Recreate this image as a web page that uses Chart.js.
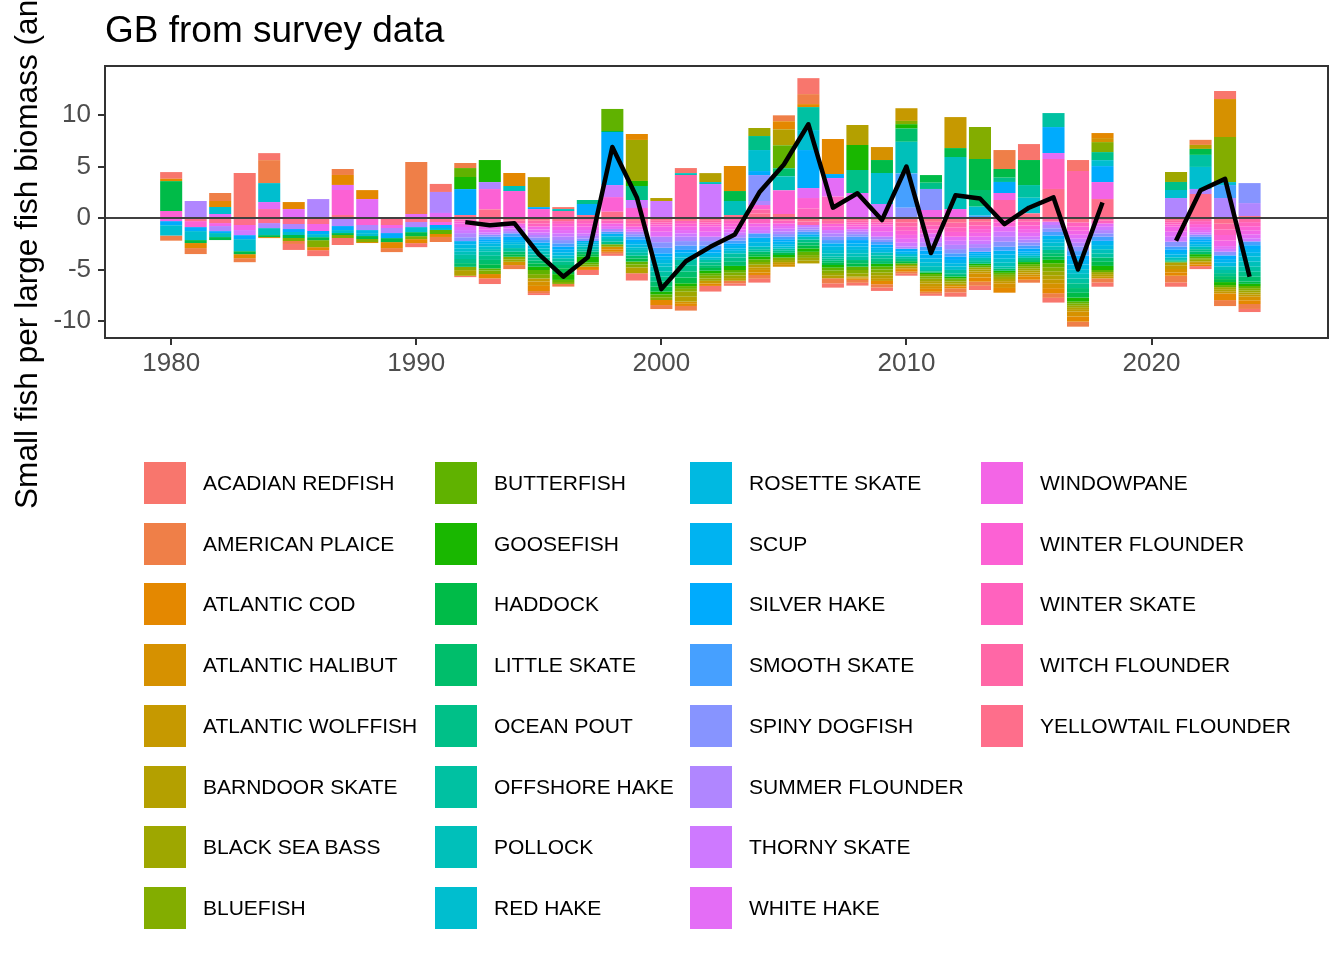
<!DOCTYPE html>
<html>
<head>
<meta charset="utf-8">
<script src="https://cdn.jsdelivr.net/npm/chart.js@4.4.1/dist/chart.umd.min.js"></script>
<style>
  body { margin: 0; background: #fff; }
  #wrap { position: relative; width: 1344px; height: 960px; font-family: "Liberation Sans", Arial, sans-serif; }
  #c { position: absolute; left: 0; top: 0; }
  .key { position: absolute; width: 42px; height: 42px; }
  .lab { position: absolute; height: 42px; line-height: 42px; font-size: 21px; color: #000; white-space: nowrap; }
</style>
</head>
<body>
<div id="wrap">
  <canvas id="c" width="1344" height="960"></canvas>
</div>
<script>
var years = [1980,1981,1982,1983,1984,1985,1986,1987,1988,1989,
  1990,1991,1992,1993,1994,1995,1996,1997,1998,1999,
  2000,2001,2002,2003,2004,2005,2006,2007,2008,2009,
  2010,2011,2012,2013,2014,2015,2016,2017,2018,2019,2020,
  2021,2022,2023,2024];

var xTicks = [1980, 1990, 2000, 2010, 2020];
var yTicks = [-10, -5, 0, 5, 10];

var species = ['ACADIAN REDFISH','AMERICAN PLAICE','ATLANTIC COD','ATLANTIC HALIBUT','ATLANTIC WOLFFISH',
  'BARNDOOR SKATE','BLACK SEA BASS','BLUEFISH','BUTTERFISH','GOOSEFISH','HADDOCK','LITTLE SKATE',
  'OCEAN POUT','OFFSHORE HAKE','POLLOCK','RED HAKE','ROSETTE SKATE','SCUP','SILVER HAKE',
  'SMOOTH SKATE','SPINY DOGFISH','SUMMER FLOUNDER','THORNY SKATE','WHITE HAKE','WINDOWPANE',
  'WINTER FLOUNDER','WINTER SKATE','WITCH FLOUNDER','YELLOWTAIL FLOUNDER'];

var acadianRedfish = [0.65,0,0,4.37,0.68,-0.58,-0.58,-0.68,0,0, -0.39,0.78,-0.13,-0.55,0,-0.19,0.19,-0.49,-0.19,-0.71, 0,0.49,-0.55,-0.24,-0.37,0,1.55,-0.42,-0.27,-0.33, -0.19,-0.19,-0.41,-0.41,0,1.55,-0.46,1.07,-0.41,null,null, -0.42,-0.29,0.78,-0.3];
var americanPlaice = [-0.5,-0.58,0.78,-0.39,2.23,-0.29,0,0.58,0,-0.39, 5.05,-0.49,0.49,0,-0.39,-0.2,-0.26,0,-0.2,0, -0.39,-0.45,0,-0.25,-0.37,0.58,0.97,-0.49,-0.28,-0.32, -0.2,-0.2,-0.4,-0.4,1.84,-0.29,-0.45,-0.49,-0.4,null,null, -0.65,0.49,-0.58,-0.48];
var atlanticCod = [0.23,-0.49,0.58,-0.39,-0.1,0.68,-0.29,0.97,0.87,-0.58, -0.39,-0.29,0,-0.42,1.26,-0.5,0,-0.32,-0.24,0.58, -0.49,-0.21,-0.24,2.43,-0.24,0.78,0.29,3.4,-0.12,-0.32, -0.17,-0.28,-0.17,-0.41,-0.46,-0.29,-0.49,-0.49,0.49,null,null, -0.32,-0.16,-0.65,-0.36];
var atlanticHalibut = [0,0,0,0,0,0,0,0,-0.1,0, 0,0,0,0,-0.32,-0.43,0,0,-0.25,0, 0,-0.21,0,0,-0.25,-0.25,0,0,-0.1,1.26, -0.16,-0.27,-0.16,-0.4,-0.45,-0.21,-0.48,-0.48,0.39,null,null, -0.33,-0.15,3.69,-0.35];
var atlanticWolffish = [0,0,0,0,0,0,0,0,0,0, 0,0,0,0,0,-0.3,0,0,0,0, 0,0,-0.25,0,-0.25,-0.2,0,0,-0.1,-0.27, 1.23,-0.24,3.01,-0.19,-0.21,-0.21,-0.38,-0.17,-0.21,null,null, -0.32,-0.15,-0.21,-0.2];
var barndoorSkate = [0,0,0,0,0,0,0,0,0,0, 0,0,-0.55,0,0,2.91,0,0,0,-0.57, 0.29,-0.48,0.87,-0.26,-0.26,1.55,-0.27,-0.25,1.94,-0.28, -0.16,-0.24,-0.16,-0.19,-0.21,-0.2,-0.39,-0.2,-0.2,null,null, -0.33,0.39,-0.2,-0.21];
var blackSeaBass = [0,0,0,0,0,0,0,0,0,0, 0,0,0,0,-0.24,0,0,0,0,3.98, 0,-0.49,-0.24,-0.26,0.78,-0.2,-0.27,-0.26,-0.32,-0.28, -0.16,-0.23,-0.17,-0.19,-0.2,-0.2,-0.39,-0.2,-0.2,null,null, 0.97,-0.15,-0.2,-0.21];
var bluefish = [0,0,0,0,0,-0.29,-0.68,-0.29,-0.29,0, -0.29,0,-0.32,-0.35,-0.25,-0.41,-0.19,-0.19,-0.24,-0.28, -0.27,-0.27,-0.25,-0.26,-0.26,-0.24,-0.27,-0.26,-0.32,-0.28, 0.32,-0.23,-0.16,3.11,-0.2,-0.2,-0.39,-0.2,0.97,null,null, 0,-0.15,4.37,-0.21];
var butterfish = [0,0,0,0,0,0,0,0,0,0, 0,-0.39,0.87,-0.2,0,-0.4,-0.2,-0.2,2.14,-0.28, -0.27,-0.27,-0.25,-0.26,-0.26,2.23,-0.32,-0.26,-0.33,-0.28, -0.16,-0.23,-0.16,-0.18,-0.2,-0.2,-0.39,-0.2,-0.2,null,null, 0,-0.15,-0.2,-0.21];
var goosefish = [0,0,0,0,0,0,0,0,0,0, 0,0,1.17,2.14,0,-0.32,-0.56,-0.58,0,0.49, -0.27,-0.27,-0.25,-0.4,-0.26,-0.25,-0.33,-0.26,2.43,-0.27, 0.42,-0.13,-0.16,-0.18,-0.2,-0.2,-0.33,-0.39,-0.4,null,null, 0,-0.25,-0.29,-0.21];
var haddock = [2.9,-0.29,-0.29,-0.29,-0.19,-0.29,-0.29,-0.19,-0.29,-0.39, -0.39,0,0,-0.4,-0.24,-0.33,-0.57,-0.24,0.1,-0.29, -0.48,-0.56,-0.26,0.97,-0.24,-0.21,-0.29,-0.21,-0.32,1.26, -0.21,0.74,0.87,3.01,0.84,2.43,-0.32,-0.47,-0.4,null,null, -0.07,0.58,-0.29,-0.21];
var littleSkate = [0,0,0,0,0,0,0,0,0,0, 0,0,-0.36,-0.42,-0.25,-0.29,-0.32,-0.24,0,-0.28, -0.48,-0.57,-0.26,-0.4,-0.24,0.78,-0.28,-0.2,-0.32,-0.27, 1.29,-0.13,-0.16,1.62,-0.2,-0.2,-0.32,-0.46,-0.41,null,null, -0.08,-0.24,-0.29,-0.48];
var oceanPout = [0,0,0,0,0,0,0,0,0,0, 0,0,-0.4,-0.4,0,-0.28,-0.32,0.39,-0.25,1.36, -0.49,-0.57,-0.26,-0.41,1.36,-0.2,-0.28,-0.2,2.23,-0.27, -0.22,0.61,-0.16,-0.18,0.42,-0.21,-0.32,-0.46,0.78,null,null, 0.78,-0.24,-0.29,-0.48];
var offshoreHake = [0,0,0,0,0,0,0,0,0,0, 0,0,-0.4,-0.4,-0.35,-0.28,-0.33,-0.24,0,-0.28, -0.49,-0.57,-0.26,-0.41,-0.24,-0.2,2.23,-0.2,-0.32,-0.27, -0.22,-0.13,-0.33,-0.18,-0.2,1.23,1.36,-0.46,-0.41,null,null, -0.08,1.17,-0.3,-0.49];
var pollock = [0,0,-0.39,0,-0.68,0,0,0,0,0, 0,0,-0.3,-0.25,0.49,-0.28,0.19,-0.25,-0.26,-0.28, -0.49,0.19,0.19,1.36,-0.25,1.36,-0.28,-0.32,-0.33,-0.27, 3.07,-0.37,5.05,-0.21,-0.38,-0.2,-0.35,-0.46,-0.4,null,null, -0.25,-0.24,-0.36,-0.49];
var redHake = [-1.0,-0.87,0.68,-1.17,1.84,-0.29,-0.3,-0.29,-0.28,0, -0.49,-0.19,-0.34,-0.27,-0.38,-0.3,-0.27,-0.19,-0.26,-0.25, -0.33,-0.24,-0.24,-0.24,2.04,-0.2,1.94,-0.32,-0.33,3.01, -0.26,-0.38,-0.33,0.87,-0.39,1.52,-0.35,-0.45,0.58,null,null, 0.78,2.14,0.29,-0.49];
var rosetteSkate = [0,0,0,0,0,0,0,0,-0.3,0, 0,0,-0.35,-0.25,-0.2,-0.28,-0.28,-0.18,0,-0.26, -0.32,-0.24,-0.24,-0.24,-0.43,-0.24,0,-0.32,-0.32,-0.27, 0,-0.38,-0.32,-0.2,-0.39,-0.2,-0.35,-0.45,-0.4,null,null, -0.26,-0.25,-0.35,-0.37];
var scup = [0,0,0,0,0,0,0,0,0,0, 0,0,-0.35,-0.2,-0.2,-0.3,-0.28,-0.18,-0.25,-0.26, -0.32,-0.24,-0.24,-0.24,-0.43,-0.24,-0.24,-0.33,-0.32,-0.25, -0.26,-0.38,-0.32,-0.2,-0.39,-0.2,-0.35,-0.45,-0.41,null,null, -0.26,-0.24,-0.35,-0.37];
var silverHake = [-0.4,-0.39,-0.19,-0.39,0,-0.29,-0.3,-0.39,0,-0.49, 0,-0.29,2.52,-0.24,-0.32,0.19,-0.3,1.07,5.15,-0.26, -0.32,-0.25,-0.25,-0.25,0.39,-0.24,3.69,0.39,-0.32,-0.26, -0.25,-0.38,-0.32,-0.2,1.07,-0.3,2.52,-0.43,1.55,null,null, -0.26,-0.24,-0.36,-0.37];
var smoothSkate = [0,0,0,0,0,0,0,0,0,0, 0,0,0,-0.25,-0.33,-0.25,-0.32,0,-0.2,-0.26, -0.54,-0.43,-0.43,-0.27,-0.43,-0.25,-0.25,-0.32,-0.33,-0.26, 3.33,-0.38,-0.32,0.23,-0.39,-0.29,-0.35,-0.43,-0.41,null,null, -0.26,-0.24,1.26,-0.37];
var spinyDogfish = [0,0,0,0,0,0,0,0,0,0, 0,0,-0.37,-0.2,0,-0.24,-0.32,-0.24,0,-0.24, -0.54,-0.43,-0.43,-0.27,2.52,-0.25,-0.21,-0.33,-0.24,-0.26, 1.0,2.04,-0.41,-0.37,-0.48,-0.29,-0.35,-0.43,-0.32,null,null, -0.48,-0.21,-0.36,1.94];
var summerFlounder = [0,1.65,-0.49,0,-0.49,-0.49,1.84,-0.78,-0.49,-0.49, -0.49,2.04,-0.4,0.68,-0.22,-0.25,-0.33,-0.25,-0.27,-0.24, -0.54,-0.43,-0.43,-0.27,0.39,-0.26,-0.22,-0.32,-0.24,-0.26, -0.2,-0.43,-0.41,-0.37,-0.48,-0.29,-0.32,-0.38,-0.32,null,null, 1.94,0.49,1.94,1.26];
var thornySkate = [0,0,0,-0.49,0,0,0,0,0,0, 0,0,-0.3,-0.22,-0.25,-0.25,-0.32,-0.25,1.17,0.78, 1.65,-0.32,3.3,-0.27,-0.32,-0.26,-0.22,-0.32,-0.24,1.36, -0.38,-0.43,-0.4,-0.36,-0.49,-0.29,-0.33,-0.39,-0.32,null,null, -0.48,-0.22,-0.27,-0.3];
var whiteHake = [0,0,0.39,0,0.68,0.87,0,0.49,1.84,0, 0.39,0.49,-0.3,-0.25,-0.25,-0.28,-0.32,-0.32,-0.27,-0.24, -0.48,-0.32,-0.48,-0.27,-0.32,-0.26,0.97,1.8,2.43,-0.48, -0.38,-0.43,-0.4,-0.36,-0.49,-0.37,0.58,-0.39,-0.33,null,null, -0.49,-0.22,-0.27,-0.39];
var windowpane = [-0.3,0,-0.29,-0.49,0,0,-0.68,0,0,-0.29, 0,-0.29,-0.35,-0.3,-0.25,-0.3,-0.33,-0.33,-0.27,-0.25, -0.49,-0.33,-0.49,-0.27,-0.33,-0.26,0,-0.33,-0.25,-0.49, -0.38,0.78,0.87,-0.37,0.68,-0.36,0,-0.39,1.65,null,null, -0.49,-0.29,-0.54,-0.39];
var winterFlounder = [0.68,-0.58,0,0,0,0,0,2.43,-0.68,0, 0,0,-0.18,1.97,2.62,0.87,-0.27,-0.28,1.42,0.97, -0.21,-0.28,-0.21,-0.28,0.42,2.3,1.0,-0.28,-0.21,-0.21, -0.4,-0.38,-0.46,-0.36,-0.42,-0.36,0,-0.39,0,null,null, -0.21,-0.29,-0.54,-0.39];
var winterSkate = [0,0,0,0,0,0,0,0,0,0, 0,0,-0.17,-0.42,0,-0.3,-0.27,-0.28,-0.26,-0.28, -0.21,-0.28,-0.21,-0.28,-0.52,-0.26,0.94,2.08,-0.21,-0.21, -0.4,-0.37,-0.45,-0.36,-0.42,-0.36,2.91,-0.42,-0.26,null,null, -0.21,-0.29,-0.55,-0.4];
var witchFlounder = [0,0,0,0,0.87,0,0,0,0,0, 0,0,-0.17,-0.42,-0.26,-0.26,0.68,-0.28,-0.26,-0.28, -0.21,4.17,-0.21,-0.28,0.42,-0.26,-0.34,-0.28,-0.21,-0.21, -0.42,-0.37,-0.45,-0.36,1.75,-0.36,-0.35,4.56,-0.26,null,null, -0.21,-0.3,-0.55,-0.4];
var yellowtailFlounder = [0,-0.3,-0.49,-0.68,-0.49,-0.58,-0.58,0.29,0,-0.68, -0.39,-0.39,0.29,0.84,-0.26,-0.26,-0.3,0.29,0.61,-0.28, -0.21,-0.28,-0.21,0.29,0.42,0.39,-0.34,-0.28,-0.21,-0.21, -0.42,-0.37,-0.45,-0.36,0,0.45,2.82,-0.42,1.84,null,null, -0.21,2.33,-0.55,0.19];

// black line: total over species, only shown from 1992
var netValues = [null,null,null,null,null,null,null,null,null,null, null,null,-0.4,-0.7,-0.5,-3.5,-5.7,-3.8,6.9,2.0, -6.9,-4.2,-2.8,-1.6,2.5,5.2,9.1,1.0,2.4,-0.2, 5.0,-3.4,2.2,1.9,-0.6,1.0,2.0,-5.0,1.5,null,null, -2.2,2.7,3.8,-5.7];

var seriesValues = [acadianRedfish, americanPlaice, atlanticCod, atlanticHalibut, atlanticWolffish,
  barndoorSkate, blackSeaBass, bluefish, butterfish, goosefish, haddock, littleSkate,
  oceanPout, offshoreHake, pollock, redHake, rosetteSkate, scup, silverHake,
  smoothSkate, spinyDogfish, summerFlounder, thornySkate, whiteHake, windowpane,
  winterFlounder, winterSkate, witchFlounder, yellowtailFlounder];

// ggplot hue palette (hcl, c = 100, l = 65)
function hueColor(h) {
  var L = 65, C = 100, rad = h * Math.PI / 180;
  var U = C * Math.cos(rad), V = C * Math.sin(rad);
  var Xn = 95.047, Yn = 100, Zn = 108.883;
  var den = Xn + 15 * Yn + 3 * Zn;
  var un = 4 * Xn / den, vn = 9 * Yn / den;
  var Y = Yn * Math.pow((L + 16) / 116, 3);
  var u = U / (13 * L) + un, v = V / (13 * L) + vn;
  var X = 9 * Y * u / (4 * v), Z = -X / 3 - 5 * Y + 3 * Y / v;
  var lin = [3.240479 * X - 1.537150 * Y - 0.498535 * Z,
    -0.969256 * X + 1.875992 * Y + 0.041556 * Z,
    0.055648 * X - 0.204043 * Y + 1.057311 * Z];
  var rgb = lin.map(function (c) {
    c = c / 100;
    var g = c <= 0.0031308 ? 12.92 * c : 1.055 * Math.pow(c, 1 / 2.4) - 0.055;
    return Math.round(255 * Math.min(1, Math.max(0, g)));
  });
  return 'rgb(' + rgb.join(',') + ')';
}
var colors = species.map(function (s, i) { return hueColor(15 + i * 360 / species.length); });

// legend, 8 rows per column
var colKeyX = [144, 435, 690, 981];
var wrap = document.getElementById('wrap');
species.forEach(function (name, i) {
  var col = Math.floor(i / 8), row = i % 8;
  var top = 462 + row * 60.7;
  var k = document.createElement('div');
  k.className = 'key';
  k.style.left = colKeyX[col] + 'px';
  k.style.top = top + 'px';
  k.style.background = colors[i];
  wrap.appendChild(k);
  var t = document.createElement('div');
  t.className = 'lab';
  t.style.left = (colKeyX[col] + 59) + 'px';
  t.style.top = top + 'px';
  t.textContent = name;
  wrap.appendChild(t);
});

Chart.defaults.font.family = '"Liberation Sans", Arial, sans-serif';

// first species ends up furthest from zero, as in ggplot
var datasets = [];
for (var i = species.length - 1; i >= 0; i--) {
  datasets.push({
    type: 'bar',
    label: species[i],
    data: years.map(function (yr, j) { return { x: yr, y: seriesValues[i][j] }; }),
    backgroundColor: colors[i],
    borderWidth: 0,
    categoryPercentage: 1,
    barPercentage: 0.9,
    stack: 'species'
  });
}
datasets.push({
  type: 'line',
  label: 'net',
  data: years.map(function (yr, j) { return { x: yr, y: netValues[j] }; }),
  borderColor: '#000',
  borderWidth: 4.5,
  borderJoinStyle: 'round',
  pointRadius: 0,
  tension: 0,
  spanGaps: false,
  stack: 'net',
  order: -1
});

var decor = {
  id: 'decor',
  afterDatasetsDraw: function (chart) {
    var ctx = chart.ctx, a = chart.chartArea;
    var y0 = chart.scales.y.getPixelForValue(0);
    ctx.save();
    ctx.strokeStyle = '#000';
    ctx.lineWidth = 1.5;
    ctx.beginPath();
    ctx.moveTo(a.left, y0);
    ctx.lineTo(a.right, y0);
    ctx.stroke();
    ctx.restore();
  },
  afterDraw: function (chart) {
    var ctx = chart.ctx, a = chart.chartArea;
    ctx.save();
    ctx.strokeStyle = '#333333';
    ctx.lineWidth = 2;
    ctx.strokeRect(a.left, a.top, a.right - a.left, a.bottom - a.top);
    ctx.fillStyle = '#000';
    ctx.font = '37px "Liberation Sans", Arial, sans-serif';
    ctx.textAlign = 'left';
    ctx.textBaseline = 'alphabetic';
    ctx.fillText('GB from survey data', 105, 42);
    ctx.translate(37, 509);
    ctx.rotate(-Math.PI / 2);
    ctx.font = '31.6px "Liberation Sans", Arial, sans-serif';
    ctx.fillText('Small fish per large fish biomass (anomaly)', 0, 0);
    ctx.restore();
  }
};

new Chart(document.getElementById('c'), {
  data: { datasets: datasets },
  options: {
    responsive: false,
    animation: false,
    layout: { padding: { left: 0, top: 66, right: 16, bottom: 582 } },
    plugins: { legend: { display: false }, tooltip: { enabled: false }, title: { display: false } },
    scales: {
      x: {
        type: 'linear',
        stacked: true,
        offset: false,
        min: 1977.3,
        max: 2027.2,
        afterFit: function (s) { s.height = 40; },
        afterBuildTicks: function (s) { s.ticks = xTicks.map(function (v) { return { value: v }; }); },
        grid: { offset: false, drawOnChartArea: false, drawTicks: true, tickLength: 7, color: '#333333', lineWidth: 2 },
        border: { display: false },
        ticks: { color: '#4D4D4D', font: { size: 26 }, padding: 3, maxRotation: 0,
          callback: function (v) { return String(v); } }
      },
      y: {
        stacked: true,
        min: -11.65,
        max: 14.76,
        afterFit: function (s) { s.width = 105; },
        afterBuildTicks: function (s) { s.ticks = yTicks.map(function (v) { return { value: v }; }); },
        grid: { offset: false, drawOnChartArea: false, drawTicks: true, tickLength: 7, color: '#333333', lineWidth: 2 },
        border: { display: false },
        ticks: { color: '#4D4D4D', font: { size: 26 }, padding: 7,
          callback: function (v) { return String(v); } }
      }
    }
  },
  plugins: [decor]
});
</script>
</body>
</html>
